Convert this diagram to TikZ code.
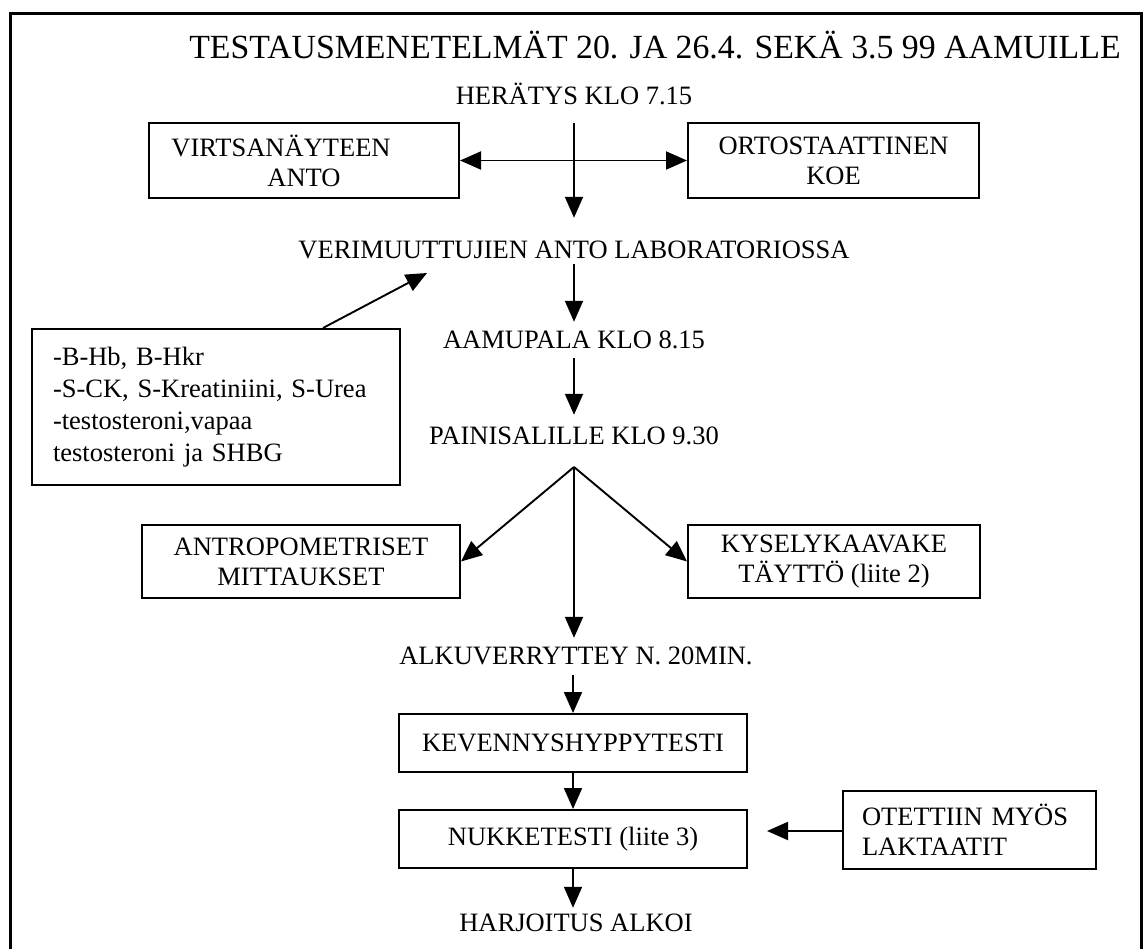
\documentclass[tikz,border=0pt]{standalone}
\usepackage{fontspec}
\setmainfont{Liberation Serif}
\usetikzlibrary{arrows.meta}
\begin{document}
\begin{tikzpicture}[x=1pt,y=-1pt,
  box/.style={draw, line width=2pt, align=center, inner sep=0pt, font=\fontsize{26.5}{30}\selectfont},
  lbl/.style={inner sep=0pt, text height=18pt, text depth=0pt, font=\fontsize{26.5}{30}\selectfont},
  arr/.style={line width=1.9pt, -{Triangle[length=21pt,width=18pt]}},
  darr/.style={line width=1.9pt, {Triangle[length=21pt,width=18pt]}-{Triangle[length=21pt,width=18pt]}}]
\useasboundingbox (0,0) rectangle (1143,949);
% outer frame (open at the bottom)
\draw[line width=3pt] (10,949) -- (10,14) -- (1141,14) -- (1141,949);
% title and step labels
\node[inner sep=0pt, text height=22pt, text depth=0pt, font=\fontsize{33.8}{40}\selectfont] (title) at (655,48) {TESTAUSMENETELMÄT 20. JA 26.4. SEKÄ 3.5 99 AAMUILLE};
\node[lbl] (heratys) at (574,96) {HERÄTYS KLO 7.15};
\node[lbl] (veri) at (574,250) {VERIMUUTTUJIEN ANTO LABORATORIOSSA};
\node[lbl] (aamu) at (574,340) {AAMUPALA KLO 8.15};
\node[lbl] (paini) at (574,435) {PAINISALILLE KLO 9.30};
\node[lbl] (alku) at (576,655) {ALKUVERRYTTEY N. 20MIN.};
\node[lbl] (harj) at (576,922) {HARJOITUS ALKOI};
% boxes
\node[box, minimum width=310pt, minimum height=75pt] (virtsa) at (304,160.5) {VIRTSANÄYTEEN\hspace*{46pt}\\ANTO};
\node[box, minimum width=291pt, minimum height=75pt] (orto) at (833.5,160.5) {ORTOSTAATTINEN\\KOE};
\node[box, minimum width=368pt, minimum height=156pt, align=left, text width=326pt, inner xsep=21pt, font=\fontsize{26.5}{32}\selectfont] (blood) at (216,407) {-B-Hb, B-Hkr\\-S-CK, S-Kreatiniini, S-Urea\\-testosteroni,vapaa\\testosteroni ja SHBG};
\node[box, minimum width=318pt, minimum height=73pt] (antro) at (301,561.5) {ANTROPOMETRISET\\MITTAUKSET};
\node[box, minimum width=292pt, minimum height=73pt] (kysely) at (834,561.5) {KYSELYKAAVAKE\\TÄYTTÖ (liite 2)};
\node[box, minimum width=348pt, minimum height=58pt] (kev) at (573,743) {KEVENNYSHYPPYTESTI};
\node[box, minimum width=348pt, minimum height=58pt] (nukke) at (573,839) {NUKKETESTI (liite 3)};
\node[box, minimum width=253pt, minimum height=78pt, align=left, text width=215pt, inner xsep=19pt] (otet) at (969.5,830) {OTETTIIN MYÖS\\LAKTAATIT};
% helper points
\coordinate (apex) at (574,467);
\coordinate (dtip) at (427,273);
% connectors
\draw[arr, shorten <=18pt, shorten >=23pt] (heratys.south) -- (veri.north);
\draw[darr] (virtsa.east) -- (orto.west);
\draw[arr, shorten <=5pt, shorten >=9pt] (veri.south) -- (aamu.north);
\draw[arr, shorten <=9pt, shorten >=11pt] (aamu.south) -- (paini.north);
\draw[arr] ([xshift=107pt]blood.north) -- (dtip);
\draw[arr] (apex) -- (antro.east);
\draw[arr] (apex) -- (kysely.west);
\draw[arr, shorten >=8pt] (apex) -- (apex |- alku.north);
\draw[arr, shorten <=11pt] (alku.south -| kev.north) -- (kev.north);
\draw[arr] (kev.south) -- (nukke.north);
\draw[arr, shorten >=5pt] (nukke.south) -- (nukke.south |- harj.north);
\draw[arr, shorten >=19pt] ([yshift=-1pt]otet.west) -- ([yshift=-1pt]otet.west -| nukke.east);
\end{tikzpicture}
\end{document}
